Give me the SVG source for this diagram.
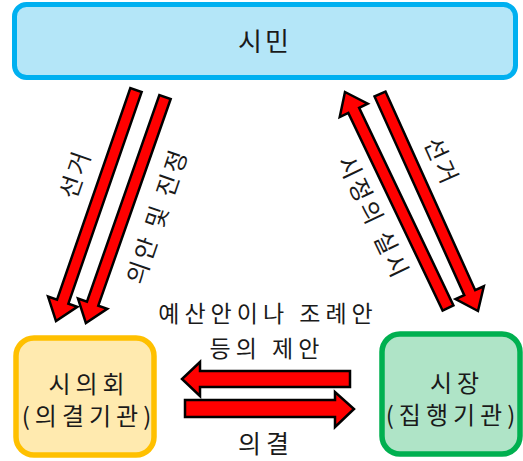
<svg xmlns="http://www.w3.org/2000/svg" width="523" height="461" viewBox="0 0 523 461">
<defs>
<style>
.t{font-family:"Noto Sans CJK KR","Noto Sans",sans-serif;fill:#1a1a1a;text-anchor:middle;letter-spacing:3px}
.n{letter-spacing:5px}
.m{letter-spacing:5px}
.arr{fill:#FF0000;stroke:#000;stroke-width:2.5;stroke-linejoin:miter}
</style>
</defs>
<rect width="523" height="461" fill="#fff"/>
<g id="citizen">
<rect x="14.5" y="4.5" width="501" height="73" rx="12" fill="#B4E6F8" stroke="#00B0F0" stroke-width="5"/>
<text class="t" x="265" y="51" font-size="26">시민</text>
</g>
<g id="council">
<rect x="16" y="338" width="138" height="117" rx="18" fill="#FFEAAF" stroke="#FFC000" stroke-width="5.5"/>
<text class="t n" x="89" y="393" font-size="24">시의회</text>
<text class="t n" x="89" y="425" font-size="24">(의결기관)</text>
</g>
<g id="mayor">
<rect x="382" y="334" width="138" height="120" rx="18" fill="#AFE4C7" stroke="#00B050" stroke-width="5.5"/>
<text class="t n" x="457" y="392" font-size="24">시장</text>
<text class="t n" x="453" y="424" font-size="24">(집행기관)</text>
</g>
<g id="connectors">
<polygon class="arr" transform="translate(136,90) rotate(109.1)" points="0,-6 224,-6 224,-15.5 244.5,0 224,15.5 224,6 0,6"/>
<polygon class="arr" transform="translate(165,97) rotate(109.3)" points="0,-6 219,-6 219,-15.5 239.4,0 219,15.5 219,6 0,6"/>
<polygon class="arr" transform="translate(448,308) rotate(-115.5)" points="0,-6 219,-6 219,-15.5 239.3,0 219,15.5 219,6 0,6"/>
<polygon class="arr" transform="translate(380,94) rotate(65.7)" points="0,-6 218,-6 218,-15.5 238.1,0 218,15.5 218,6 0,6"/>
<polygon class="arr" points="350,371 200,371 200,362 182,379 200,396 200,387 350,387"/>
<polygon class="arr" points="185,400 335,400 335,392 354,409 335,427 335,417 185,417"/>
<text class="t" font-size="24" transform="translate(76,174) rotate(-71)" y="8">선거</text>
<text class="t" font-size="24" transform="translate(158,216) rotate(-71)" y="8">의안 및 진정</text>
<text class="t" font-size="24" transform="translate(373,218) rotate(64.5)" y="8">시정의 실시</text>
<text class="t" font-size="24" transform="translate(441,162) rotate(65.7)" y="8">선거</text>
<text class="t m" x="268" y="322" font-size="23">예산안이나 조례안</text>
<text class="t m" x="267" y="357" font-size="23">등의 제안</text>
<text class="t m" x="266" y="453" font-size="25">의결</text>
</g>
</svg>
